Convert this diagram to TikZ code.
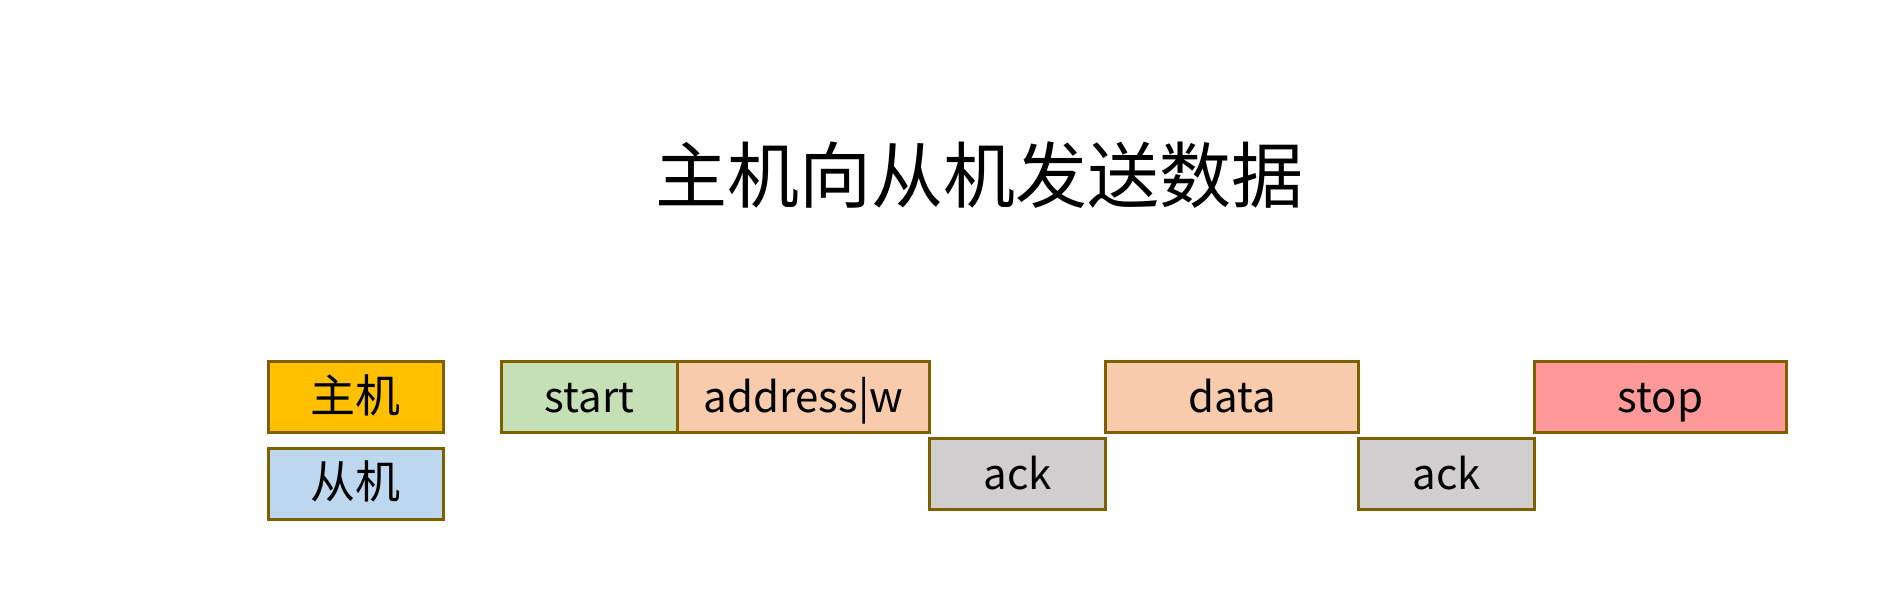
\documentclass[tikz,border=0pt]{standalone}
\usepackage{fontspec}
\newfontfamily\cjk{Noto Sans CJK SC}
\usetikzlibrary{positioning}

\definecolor{frameline}{HTML}{7F6000}
\definecolor{masterfill}{HTML}{FFC000}
\definecolor{slavefill}{HTML}{BDD7EE}
\definecolor{startfill}{HTML}{C5E0B4}
\definecolor{bytefill}{HTML}{F8CBAD}
\definecolor{ackfill}{HTML}{D0CECE}
\definecolor{stopfill}{HTML}{FF9999}

\begin{document}
\begin{tikzpicture}[
    x=1pt, y=-1pt,
    font=\cjk,
    slot/.style={rectangle, draw=frameline, line width=3pt, inner sep=0pt, outer sep=0pt, minimum height=71pt, text height=40pt, text depth=10pt, font=\cjk\fontsize{42}{50}\selectfont},
    legend/.style={slot, minimum width=175.5pt, font=\cjk\fontsize{45}{54}\selectfont},
    shortslot/.style={slot, minimum width=176pt},
    longslot/.style={slot, minimum width=252pt}
]
    \useasboundingbox (0,0) rectangle (1879,591);

    % Title
    \node [font=\cjk\fontsize{72}{80}\selectfont] (title) at (979,175) {主机向从机发送数据};

    % Legend
    \node [legend, fill=masterfill] (master) at (355.75,397) {主机};
    \node [legend, fill=slavefill, below=15.5pt of master] (slave) {从机};

    % Master line
    \node [shortslot, fill=startfill, right=58pt of master] (start) {start};
    \node [longslot, fill=bytefill, right=0pt of start] (addr) {address|w};

    % Slave answers, then master again
    \node [shortslot, fill=ackfill, below right=6pt and 0pt of addr] (ack1) {ack};
    \node [longslot, fill=bytefill, minimum width=253pt, above right=6pt and 0pt of ack1] (data) {data};
    \node [shortslot, fill=ackfill, below right=6pt and 0pt of data] (ack2) {ack};
    \node [longslot, fill=stopfill, above right=6pt and 0pt of ack2] (stop) {stop};

\end{tikzpicture}
\end{document}
